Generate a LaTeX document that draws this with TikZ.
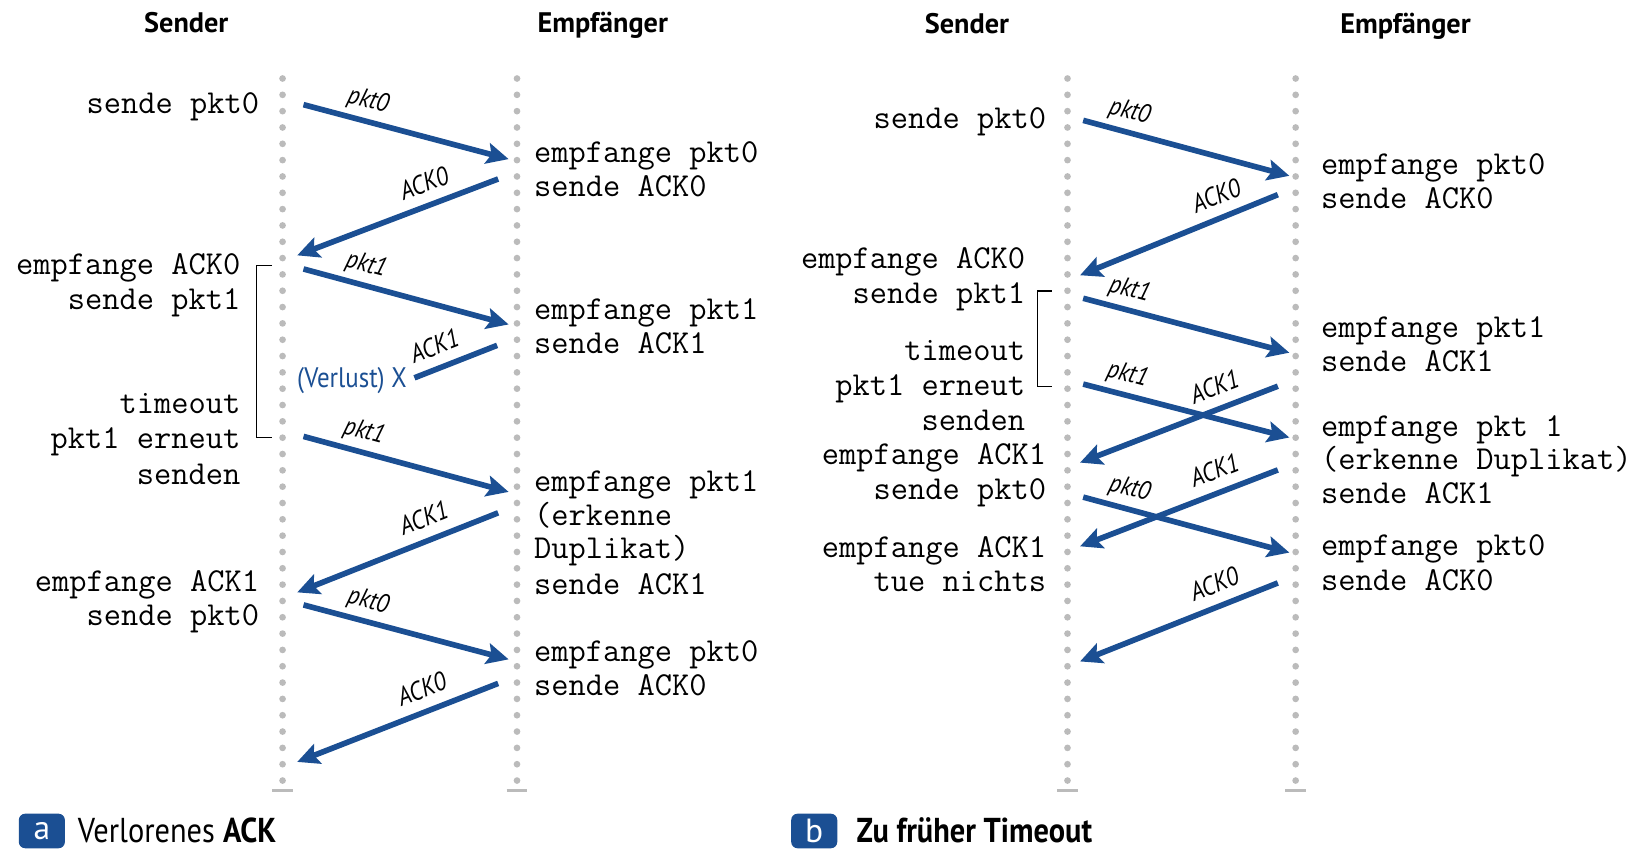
\documentclass[tikz,border=0pt]{standalone}
\usepackage{fontspec}
\setsansfont{PT Sans}
\newfontfamily\condsans[FakeStretch=0.88]{PT Sans}
\usetikzlibrary{arrows.meta}
\definecolor{netblue}{HTML}{1B4F93}
\definecolor{dotgray}{HTML}{BBBBBB}
\begin{document}
\begin{tikzpicture}[x=0.5pt,y=-0.5pt,
  lifeline/.style={draw=dotgray, line width=3.2pt, line cap=round, dash pattern=on 0pt off 7.8pt},
  lifeend/.style={draw=dotgray, line width=1.3pt},
  msg/.style={draw=netblue, line width=2.7pt, -{Stealth[length=10.5pt,width=10pt,inset=2pt]}},
  lostmsg/.style={draw=netblue, line width=2.7pt},
  msglbl/.style={font=\condsans\itshape\fontsize{12.5}{13}\selectfont, inner sep=0pt, text height=7pt, text depth=1pt},
  head/.style={anchor=base, inner sep=0pt, font=\sffamily\bfseries\fontsize{13.5}{15}\selectfont},
  sndtxt/.style={anchor=base east, inner sep=0pt, font=\ttfamily\fontsize{16}{17}\selectfont},
  rcvtxt/.style={anchor=base west, inner sep=0pt, font=\ttfamily\fontsize{16}{17}\selectfont},
  timer/.style={draw=black, line width=0.6pt},
  capbox/.style={fill=netblue, rounded corners=3pt, minimum width=22pt, minimum height=16.5pt,
    inner sep=0pt, text=white, font=\sffamily\fontsize{16}{17}\selectfont},
  captext/.style={anchor=base west, inner sep=0pt, font=\condsans\fontsize{16.5}{17}\selectfont},
]
\useasboundingbox (0,0) rectangle (1568,811);

% ---------- lifelines ----------
\foreach \n/\x in {sA/270, rA/494, sB/1020, rB/1238}{
  \coordinate (\n top) at (\x,75);
  \coordinate (\n bot) at (\x,746);
  \coordinate (\n end) at (\x,755);
  \draw[lifeline] (\n top) -- (\n bot);
  \draw[lifeend] ([xshift=-5pt]\n end) -- ([xshift=5pt]\n end);
}

% ---------- column heads ----------
\node[head] (hsA) at (178,31) {Sender};
\node[head] (hrA) at (576,31) {Empfänger};
\node[head] (hsB) at (924,32) {Sender};
\node[head] (hrB) at (1343,32) {Empfänger};

% ---------- (a) sender side ----------
\foreach \n/\x/\y/\t in {
  ta1/248/108/sende pkt0,
  ta2/230/262/empfange ACK0,
  ta3/230/296/sende pkt1,
  ta4/230/395/timeout,
  ta5/230/429/pkt1 erneut,
  ta6/230/463/senden,
  ta7/248/565/empfange ACK1,
  ta8/248/598/sende pkt0}
  \node[sndtxt] (\n) at (\x,\y) {\t};

% ---------- (a) receiver side ----------
\foreach \n/\y/\t in {
  ua1/155/empfange pkt0,
  ua2/188/sende ACK0,
  ua3/305/empfange pkt1,
  ua4/338/sende ACK1,
  ua5/470/empfange pkt1,
  ua6/502/(erkenne,
  ua7/534/Duplikat),
  ua8/568/sende ACK1,
  ua9/632/empfange pkt0,
  ua10/665/sende ACK0}
  \node[rcvtxt] (\n) at (510,\y) {\t};

% ---------- (b) sender side ----------
\foreach \n/\x/\y/\t in {
  tb1/1000/123/sende pkt0,
  tb2/980/257/empfange ACK0,
  tb3/980/290/sende pkt1,
  tb4/980/344/timeout,
  tb5/980/378/pkt1 erneut,
  tb6/980/411/senden,
  tb7/1000/444/empfange ACK1,
  tb8/1000/477/sende pkt0,
  tb9/1000/533/empfange ACK1,
  tb10/1000/565/tue nichts}
  \node[sndtxt] (\n) at (\x,\y) {\t};

% ---------- (b) receiver side ----------
\foreach \n/\y/\t in {
  ub1/167/empfange pkt0,
  ub2/199/sende ACK0,
  ub3/322/empfange pkt1,
  ub4/355/sende ACK1,
  ub5/417/empfange pkt 1,
  ub6/449/(erkenne Duplikat),
  ub7/481/sende ACK1,
  ub8/531/empfange pkt0,
  ub9/564/sende ACK0}
  \node[rcvtxt] (\n) at (1262,\y) {\t};

% ---------- timer brackets ----------
\coordinate (brAt) at (260,254);
\coordinate (brAb) at (260,418);
\draw[timer] (brAt) -- ++(-15,0) |- (brAb);
\coordinate (brBt) at (1005,278);
\coordinate (brBb) at (1005,369);
\draw[timer] (brBt) -- ++(-14,0) |- (brBb);

% ---------- (a) messages ----------
\coordinate (a1s) at (290,100); \coordinate (a1e) at (486,152);
\coordinate (a2s) at (476,171); \coordinate (a2e) at (284,244);
\coordinate (a3s) at (290,257); \coordinate (a3e) at (486,310);
\coordinate (a4s) at (475,330); \coordinate (a4e) at (396,361);
\coordinate (a5s) at (290,417); \coordinate (a5e) at (486,470);
\coordinate (a6s) at (476,490); \coordinate (a6e) at (284,566);
\coordinate (a7s) at (290,578); \coordinate (a7e) at (486,630);
\coordinate (a8s) at (476,653); \coordinate (a8e) at (284,728);

\draw[msg] (a1s) -- node[msglbl, pos=.29, sloped, above=4pt] {pkt0} (a1e);
\draw[msg] (a2s) -- node[msglbl, pos=.33, sloped, above=4pt] {ACK0} (a2e);
\draw[msg] (a3s) -- node[msglbl, pos=.28, sloped, above=4pt] {pkt1} (a3e);
\draw[lostmsg] (a4s) -- node[msglbl, pos=.66, sloped, above=4pt] {ACK1} (a4e);
\node[anchor=base east, inner sep=0pt, text=netblue, font=\condsans\fontsize{13.5}{14}\selectfont]
  (lossA) at (389,370) {(Verlust) X};
\draw[msg] (a5s) -- node[msglbl, pos=.27, sloped, above=4pt] {pkt1} (a5e);
\draw[msg] (a6s) -- node[msglbl, pos=.33, sloped, above=4pt] {ACK1} (a6e);
\draw[msg] (a7s) -- node[msglbl, pos=.29, sloped, above=4pt] {pkt0} (a7e);
\draw[msg] (a8s) -- node[msglbl, pos=.34, sloped, above=4pt] {ACK0} (a8e);

% ---------- (b) messages ----------
\coordinate (b1s) at (1035,115); \coordinate (b1e) at (1232,168);
\coordinate (b2s) at (1221,186); \coordinate (b2e) at (1032,263);
\coordinate (b3s) at (1035,285); \coordinate (b3e) at (1232,337);
\coordinate (b4s) at (1035,367); \coordinate (b4e) at (1232,418);
\coordinate (b5s) at (1221,369); \coordinate (b5e) at (1032,442);
\coordinate (b6s) at (1221,449); \coordinate (b6e) at (1032,522);
\coordinate (b7s) at (1035,475); \coordinate (b7e) at (1232,528);
\coordinate (b8s) at (1221,557); \coordinate (b8e) at (1032,632);

\draw[msg] (b1s) -- node[msglbl, pos=.2, sloped, above=4pt] {pkt0} (b1e);
\draw[msg] (b2s) -- node[msglbl, pos=.27, sloped, above=4pt] {ACK0} (b2e);
\draw[msg] (b3s) -- node[msglbl, pos=.2, sloped, above=4pt] {pkt1} (b3e);
\draw[msg] (b4s) -- node[msglbl, pos=.19, sloped, above=4pt] {pkt1} (b4e);
\draw[msg] (b5s) -- node[msglbl, pos=.28, sloped, above=4pt] {ACK1} (b5e);
\draw[msg] (b6s) -- node[msglbl, pos=.28, sloped, above=4pt] {ACK1} (b6e);
\draw[msg] (b7s) -- node[msglbl, pos=.2, sloped, above=4pt] {pkt0} (b7e);
\draw[msg] (b8s) -- node[msglbl, pos=.28, sloped, above=4pt] {ACK0} (b8e);

% ---------- captions ----------
\node[capbox] (capA) at (40,794) {a};
\node[captext] (capAt) at (74,805) {Verlorenes \textbf{ACK}};
\node[capbox] (capB) at (778,794) {b};
\node[captext] (capBt) at (818,805) {\textbf{Zu früher Timeout}};
\end{tikzpicture}
\end{document}
